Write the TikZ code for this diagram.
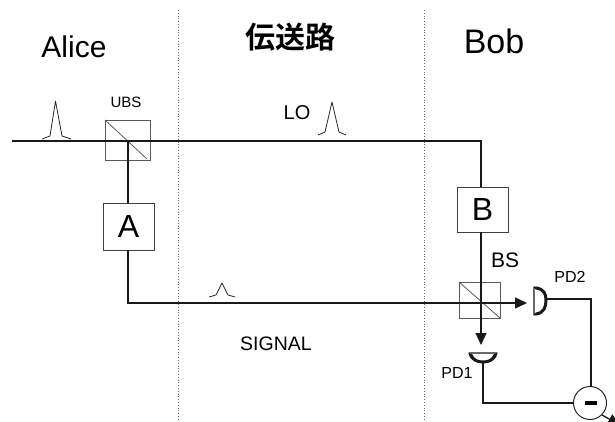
\documentclass[tikz,border=0pt]{standalone}
\usepackage{fontspec}
\setmainfont{Liberation Sans}
\newfontfamily\cjk{Noto Sans CJK JP Bold}
\usetikzlibrary{arrows.meta}
\tikzset{
  beam/.style={line width=1.3pt,black!90},
  thinbox/.style={draw=black!75,line width=.9pt,fill=white,minimum width=#1,inner sep=0pt},
  cube/.style={draw=black!65,line width=.8pt},
  divider/.style={black!60,line width=.8pt,dotted},
  lab/.style={inner sep=0pt,font=\fontsize{#1}{#1}\selectfont},
  pulse/.style={black!85,line width=.8pt,line join=round},
  tip/.style={-{Triangle[length=12pt,width=11pt]}},
  detector/.style={draw=black!90,fill=white,line width=1.2pt,line join=round},
  detectorrim/.style={draw=black!90,line width=3pt,line cap=round},
}
\begin{document}
\begin{tikzpicture}[x=1pt,y=-1pt]
\useasboundingbox (0,0) rectangle (615,422);
\clip (0,0) rectangle (615,422);
\draw[divider] (178,10) -- (178,422);
\draw[divider] (424,10) -- (424,422);
% text
\node[lab=30] (alice) at (74,47) {Alice};
\node[inner sep=0pt,font=\fontsize{30}{30}\selectfont\cjk] (channel) at (290,37) {伝送路};
\node[lab=34] (bob) at (494,41) {Bob};
\node[lab=15] (ubslab) at (126,102) {UBS};
\node[lab=20] (lolab) at (297,113) {LO};
\node[lab=21] (bslab) at (505,260) {BS};
\node[lab=16] (pd2lab) at (570,277) {PD2};
\node[lab=16] (pd1lab) at (457,373) {PD1};
\node[lab=19.5] (siglab) at (276,344) {SIGNAL};
% cube positions
\coordinate (ubs) at (128,141);
\coordinate (bs) at (481,303);
\coordinate (start) at (12,141);
\coordinate (corner) at (481,141);
\coordinate (acorner) at (128,303);
% boxes
\node[thinbox=51pt,minimum height=47pt] (A) at (128.5,226.5) {\fontsize{32}{32}\selectfont A};
\node[thinbox=51pt,minimum height=45pt] (B) at (482.5,209.5) {\fontsize{32}{32}\selectfont B};
% UBS cube
\draw[cube] (105,120) rectangle (150,160);
\draw[cube] (105,120) -- (147,159);
% BS cube
\draw[cube] (459,282) rectangle (500,318);
\draw[cube] (459,282) -- (500,318);
% beams
\draw[beam] (start) -- (ubs) -- (corner) -- (B.north -| corner);
\draw[beam] (ubs) -- (A.north -| ubs);
\draw[beam] (A.south -| ubs) -- (acorner) -- (bs);
\draw[beam,tip] (bs) -- (527,303);
\draw[beam,tip] (B.south -| corner) -- (481,345);
% detectors
\coordinate (pd2) at (547,299);
\draw[detector] (534,287) .. controls (544,288) and (546,293) .. (546,300) .. controls (546,307) and (544,314) .. (534,315) -- cycle;
\draw[detectorrim] (536,288) .. controls (544,289) and (546,294) .. (546,300) .. controls (546,307) and (544,313) .. (536,314);
\coordinate (pd1) at (483,363);
\draw[detector] (469,353) -- (497,353) .. controls (496,359) and (491,362) .. (483,362) .. controls (475,362) and (470,359) .. (469,353) -- cycle;
\draw[detectorrim] (471,355) .. controls (473,360) and (477,362) .. (483,362) .. controls (489,362) and (493,360) .. (495,355);
% subtractor
\node[circle,draw=black!85,line width=1pt,minimum size=33pt,inner sep=0pt] (sub) at (590,403) {};
\fill[black] (585,401) rectangle (597,405);
\coordinate (out) at (620,425);
\draw[beam] (pd2) -- (591,299) -- (591,386.5);
\draw[beam] (pd1) -- (483,403) -- (sub.west);
\draw[beam,-{Triangle[length=12pt,width=11pt]}] (sub.south east) -- (out);
% pulses
\draw[pulse] (42,139) -- (50,136) -- (55.5,101) -- (62,136) -- (71,139);
\draw[pulse] (318,135) -- (325,132) -- (332,102) -- (339,132) -- (346,135);
\draw[pulse] (209,297) -- (216,295) -- (222,283) -- (228,295) -- (235,297);
\end{tikzpicture}
\end{document}
